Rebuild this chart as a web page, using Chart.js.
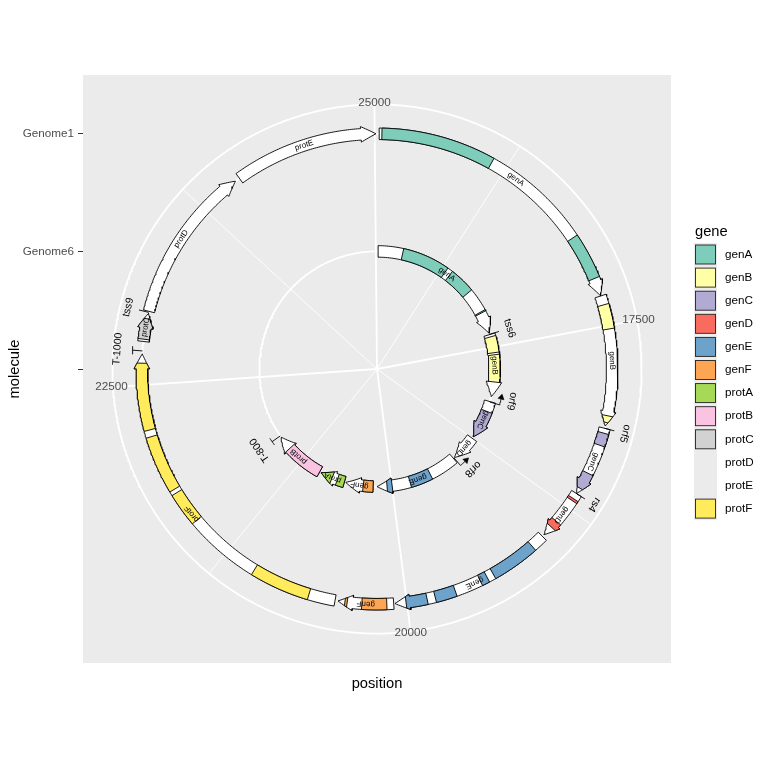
<!DOCTYPE html>
<html>
<head>
<meta charset="utf-8">
<title>gene map</title>
<script src="https://cdn.jsdelivr.net/npm/chart.js@4.4.1/dist/chart.umd.min.js"></script>
<style>
  body { margin: 0; background: #ffffff; }
  canvas { display: block; }
</style>
</head>
<body>
<canvas id="geneMap" width="768" height="768"></canvas>
<script>
const FONT = '"Liberation Sans", Arial, Helvetica, sans-serif';

// molecule axis, from the centre outwards (first level has no name)
const molecules = ['', 'Genome6', 'Genome1'];

// position axis (angle)
const positionRange = [15375, 25015];
const positionBreaks = [17500, 20000, 22500, 25000];
const positionMinor = [16250, 18750, 21250, 23750];

// fill scale
const geneNames = ['genA', 'genB', 'genC', 'genD', 'genE', 'genF', 'protA', 'protB', 'protC', 'protD', 'protE', 'protF'];
const geneColors = ['#7DCDBA', '#FFFFA6', '#B1AAD3', '#FA6B5F', '#6DA2CB', '#FCA654', '#A6DA56', '#F9C3E1', '#D2D2D2', null, null, '#FFEB5C'];

// gene arrows
const geneMolecule = ['Genome1', 'Genome1', 'Genome1', 'Genome1', 'Genome1', 'Genome1', 'Genome1', 'Genome1', 'Genome1', 'Genome1',
                      'Genome6', 'Genome6', 'Genome6', 'Genome6', 'Genome6', 'Genome6', 'Genome6', 'Genome6'];
const geneName = ['genA', 'genB', 'genC', 'genD', 'genE', 'genF', 'protF', 'protC', 'protD', 'protE',
                  'genA', 'genB', 'genC', 'genD', 'genE', 'genF', 'protA', 'protB'];
const geneStart = [15389, 17301, 18176, 18641, 18999, 20086, 20470, 22785, 22985, 24056,
                   15389, 17330, 18216, 18750, 19110, 20246, 20626, 20975];
const geneEnd = [17299, 18161, 18640, 18985, 20078, 20451, 22704, 22972, 24024, 25008,
                 17311, 18150, 18730, 19092, 20195, 20608, 20953, 21657];

// coloured sub-gene segments
const subMolecule = ['Genome1', 'Genome1', 'Genome1', 'Genome1', 'Genome1', 'Genome1', 'Genome1', 'Genome1', 'Genome1', 'Genome1',
                     'Genome1', 'Genome1', 'Genome1', 'Genome1', 'Genome1', 'Genome1', 'Genome1', 'Genome1', 'Genome1',
                     'Genome6', 'Genome6', 'Genome6', 'Genome6', 'Genome6', 'Genome6', 'Genome6', 'Genome6', 'Genome6',
                     'Genome6', 'Genome6', 'Genome6'];
const subGene = ['genA', 'genA', 'genB', 'genB', 'genC', 'genC', 'genD', 'genD', 'genE', 'genE',
                 'genE', 'genE', 'genF', 'genF', 'protF', 'protF', 'protF', 'protF', 'protC',
                 'genA', 'genA', 'genA', 'genB', 'genB', 'genC', 'genE', 'genE', 'genF',
                 'protA', 'protA', 'protB'];
const subStart = [15407, 16880, 17362, 18092, 18208, 18489, 18680, 18865, 19092, 19449,
                  19675, 19866, 20131, 20390, 20645, 21534, 21783, 22203, 22800,
                  15710, 16385, 17015, 17362, 17600, 18350, 19477, 19997, 20246,
                  20626, 20795, 20975];
const subEnd = [16153, 17180, 17523, 18137, 18291, 18600, 18695, 18915, 19404, 19499,
                19812, 20005, 20294, 20405, 21036, 21756, 22158, 22643, 22935,
                16315, 16717, 17030, 17573, 17954, 18715, 19759, 20064, 20375,
                20723, 20953, 21472];

// features
const featMolecule = ['Genome1', 'Genome1', 'Genome1', 'Genome1', 'Genome6', 'Genome6', 'Genome6', 'Genome6'];
const featName = ['orf5', 'rs4', 'T-1000', 'tss9', 'tss6', 'orf9', 'orf8', 'T-800'];
const featPos = [18176, 18642, 22723, 22978, 17327, 18222, 19100, 21676];
const featShape = ['mark', 'mark', 'terminator', 'mark', 'mark', 'arrow', 'arrow', 'terminator'];
const featDir = [0, 0, 0, 0, 0, -1, -1, 0];

// geometry of the polar panel (pixels)
const PANEL = 588, HALF = PANEL / 2;
const R_MAX = 0.4 * PANEL, R_OUT = 0.45 * PANEL;
const BODY = 11.5, HEAD = 15.5, HEAD_LEN = 15;
const span = positionRange[1] - positionRange[0];

function angle(p) { return (p - positionRange[0]) / span * 2 * Math.PI; }
function radius(m) { return molecules.indexOf(m) / (molecules.length - 1) * R_MAX; }
function polar(p, r) { const a = angle(p); return { x: r * Math.sin(a), y: r * Math.cos(a) }; }
function perPx(r) { return span / (2 * Math.PI * r); }
function colorOf(name) { return geneColors[geneNames.indexOf(name)]; }

function arc(a, b, r) {
    const n = Math.max(1, Math.ceil(Math.abs(b - a) / perPx(r) / 2));
    const pts = [];
    for (let i = 0; i <= n; i++) pts.push(polar(a + (b - a) * i / n, r));
    return pts;
}

// outline of the part [a, b] of the arrow for gene [gs, ge] on ring r
function arrowPiece(gs, ge, a, b, r) {
    const hs = Math.max(gs, ge - HEAD_LEN * perPx(r));
    const half = p => p < hs ? BODY / 2 : HEAD / 2 * (ge - p) / (ge - hs);
    const step = perPx(r) * 2;
    const ps = [a];
    for (let p = a + step; p < b; p += step) ps.push(p);
    ps.push(b);
    const shoulder = hs > a && hs < b;
    if (shoulder) ps.push(hs);
    ps.sort((u, v) => u - v);
    const outer = [], inner = [];
    ps.forEach(p => {
        if (shoulder && p === hs) {
            outer.push(polar(p, r + BODY / 2), polar(p, r + HEAD / 2));
            inner.push(polar(p, r - BODY / 2), polar(p, r - HEAD / 2));
        } else {
            outer.push(polar(p, r + half(p)));
            inner.push(polar(p, r - half(p)));
        }
    });
    const pts = outer.concat(inner.reverse());
    pts.push(pts[0]);
    return pts;
}

const datasets = [];
function addLine(points, color, width, order) {
    datasets.push({ data: points, showLine: true, fill: false, borderColor: color, borderWidth: width,
        pointRadius: 0, pointHoverRadius: 0, order: order });
}
function addShape(points, fillColor, width, order) {
    datasets.push({ data: points, showLine: true, fill: 'shape', backgroundColor: fillColor, borderColor: '#000000',
        borderWidth: width, pointRadius: 0, pointHoverRadius: 0, order: order });
}

// grid
positionMinor.forEach(p => addLine([polar(p, 0), polar(p, R_OUT)], '#FFFFFF', 0.9, 100));
positionBreaks.forEach(p => addLine([polar(p, 0), polar(p, R_OUT)], '#FFFFFF', 1.8, 99));
molecules.slice(1).forEach(m => addLine(arc(positionRange[0], positionRange[1], radius(m)), '#FFFFFF', 1.8, 99));
addLine(arc(positionRange[0], positionRange[1], R_OUT), '#FFFFFF', 1.8, 99);

// genes
geneName.forEach((g, i) => {
    const r = radius(geneMolecule[i]);
    addShape(arrowPiece(geneStart[i], geneEnd[i], geneStart[i], geneEnd[i], r), '#FFFFFF', 0.9, 60);
});

// sub-genes
subGene.forEach((g, i) => {
    const gi = geneName.findIndex((n, k) => n === g && geneMolecule[k] === subMolecule[i]);
    const r = radius(subMolecule[i]);
    addShape(arrowPiece(geneStart[gi], geneEnd[gi], subStart[i], subEnd[i], r), colorOf(g), 0.9, 50);
});

// features
featName.forEach((f, i) => {
    const r = radius(featMolecule[i]);
    const p = featPos[i];
    const top = r + 10;
    addLine([polar(p, r), polar(p, top)], '#000000', 0.9, 40);
    if (featShape[i] === 'terminator') {
        const w = 4 * perPx(top);
        addLine(arc(p - w, p + w, top), '#000000', 0.9, 40);
    } else if (featShape[i] === 'arrow') {
        const k = perPx(top) * featDir[i];
        addLine(arc(p, p + 6 * k, top), '#000000', 0.9, 40);
        const tri = [polar(p + 6 * k, top - 3), polar(p + 11 * k, top), polar(p + 6 * k, top + 3)];
        tri.push(tri[0]);
        addShape(tri, '#000000', 0.6, 39);
    }
});

function rotatedText(ctx, text, at, rot, size, color) {
    ctx.save();
    ctx.translate(at.x, at.y);
    ctx.rotate(rot);
    ctx.font = size + 'px ' + FONT;
    ctx.fillStyle = color;
    ctx.textAlign = 'center';
    ctx.textBaseline = 'middle';
    ctx.fillText(text, 0, 0);
    ctx.restore();
}

const mapText = {
    id: 'mapText',
    beforeDraw(chart) {
        const { ctx, chartArea: c } = chart;
        ctx.save();
        ctx.fillStyle = '#EBEBEB';
        ctx.fillRect(c.left, c.top, c.right - c.left, c.bottom - c.top);
        ctx.restore();
    },
    afterDatasetsDraw(chart) {
        const ctx = chart.ctx;
        const sx = chart.scales.x, sy = chart.scales.y;
        const px = pt => ({ x: sx.getPixelForValue(pt.x), y: sy.getPixelForValue(pt.y) });

        // gene labels, shrunk to fit the arrow
        geneName.forEach((g, i) => {
            const r = radius(geneMolecule[i]);
            const mid = (geneStart[i] + geneEnd[i]) / 2;
            const avail = (geneEnd[i] - geneStart[i]) / perPx(r) - 7.6;
            let size = 8;
            ctx.font = size + 'px ' + FONT;
            const w = ctx.measureText(g).width;
            if (w > avail) size = Math.max(4, size * avail / w);
            rotatedText(ctx, g, px(polar(mid, r)), angle(mid), size, '#000000');
        });

        // feature labels
        featName.forEach((f, i) => {
            const r = radius(featMolecule[i]);
            const rr = r + (featShape[i] === 'terminator' ? 25 : 21);
            const p = featPos[i] + featDir[i] * 7 * perPx(rr);
            rotatedText(ctx, f, px(polar(p, rr)), angle(p), 10.5, '#000000');
        });

        // position axis labels
        positionBreaks.forEach(b => {
            rotatedText(ctx, String(b), px(polar(b, R_OUT + 1.5)), 0, 11.7, '#4D4D4D');
        });
    },
    afterDraw(chart) {
        const ctx = chart.ctx;
        ctx.save();
        ctx.fillStyle = '#000000';
        ctx.font = '14.7px ' + FONT;
        ctx.textAlign = 'left';
        ctx.textBaseline = 'middle';
        ctx.fillText('gene', 695, 232);
        geneNames.forEach((g, i) => {
            const cy = 254.5 + i * 23.1;
            ctx.fillStyle = '#EBEBEB';
            ctx.fillRect(694, cy - 11.6, 23, 23.2);
            if (geneColors[i]) {
                ctx.fillStyle = geneColors[i];
                ctx.fillRect(695.5, cy - 9.5, 20, 19);
                ctx.strokeStyle = '#222222';
                ctx.lineWidth = 0.9;
                ctx.strokeRect(695.5, cy - 9.5, 20, 19);
            }
            ctx.fillStyle = '#000000';
            ctx.font = '11.7px ' + FONT;
            ctx.fillText(g, 725, cy);
        });
        ctx.restore();
    }
};

new Chart(document.getElementById('geneMap'), {
    type: 'scatter',
    data: { datasets: datasets },
    options: {
        responsive: false,
        animation: false,
        events: [],
        layout: { padding: { top: 75, right: 97, bottom: 0, left: 0 } },
        elements: { line: { tension: 0, borderJoinStyle: 'miter' } },
        plugins: { legend: { display: false }, tooltip: { enabled: false } },
        scales: {
            x: {
                type: 'linear', position: 'bottom', min: -HALF, max: HALF,
                afterFit: s => { s.height = 105; },
                ticks: { display: false },
                grid: { display: false },
                border: { display: false },
                title: { display: true, text: 'position', color: '#000000',
                         font: { family: FONT, size: 14.7 }, padding: { top: 0, bottom: 75 } }
            },
            y: {
                type: 'linear', position: 'left', min: -HALF, max: HALF,
                afterFit: s => { s.width = 83; },
                afterBuildTicks: s => { s.ticks = molecules.map(m => ({ value: radius(m) })); },
                ticks: {
                    callback: (v, i) => molecules[i],
                    color: '#4D4D4D', font: { family: FONT, size: 11.7 }, padding: 4, autoSkip: false
                },
                grid: { drawOnChartArea: false, drawTicks: true, tickLength: 5, color: '#333333', lineWidth: 1 },
                border: { display: false },
                title: { display: true, text: 'molecule', color: '#000000',
                         font: { family: FONT, size: 14.7 }, padding: { top: 6, bottom: 0 } }
            }
        }
    },
    plugins: [mapText]
});
</script>
</body>
</html>
